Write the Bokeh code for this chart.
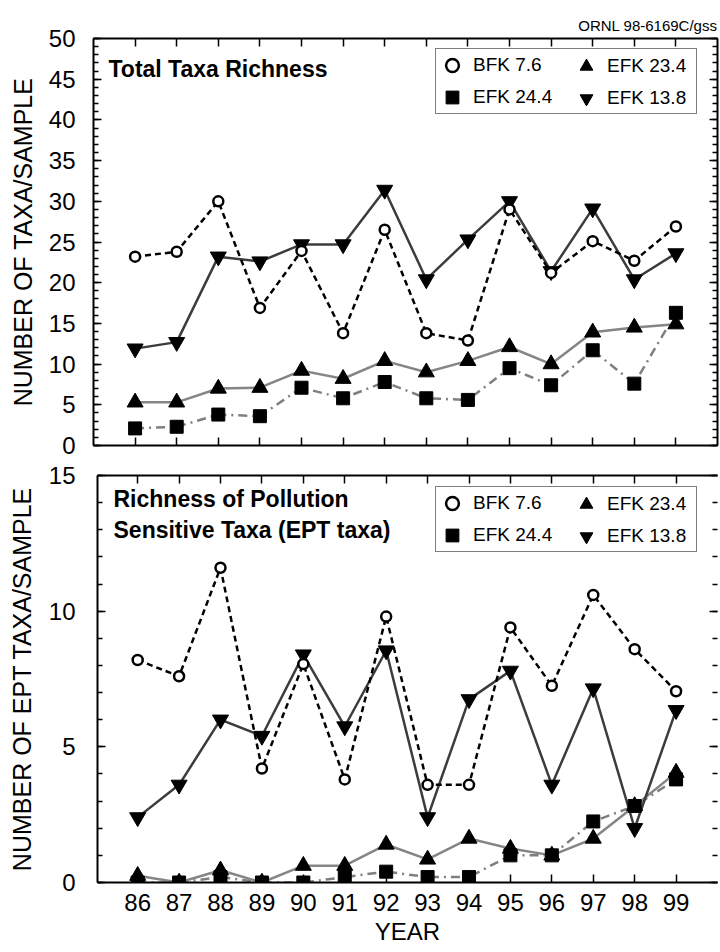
from bokeh.plotting import figure
from bokeh.models import (LinearAxis, FixedTicker, Legend, LegendItem, Label, Range1d)
from bokeh.layouts import column
from bokeh.embed import file_html
from bokeh.resources import INLINE

FONT = "Liberation Sans"

years = [86, 87, 88, 89, 90, 91, 92, 93, 94, 95, 96, 97, 98, 99]

# Top panel: total taxa richness
total_bfk76 = [23.2, 23.8, 30.0, 16.9, 23.9, 13.8, 26.5, 13.8, 12.9, 29.0, 21.2, 25.1, 22.7, 26.9]
total_efk138 = [11.9, 12.7, 23.2, 22.6, 24.7, 24.7, 31.4, 20.4, 25.3, 30.0, 21.4, 29.1, 20.4, 23.6]
total_efk234 = [5.3, 5.3, 7.0, 7.1, 9.2, 8.2, 10.4, 9.0, 10.4, 12.1, 10.0, 13.9, 14.5, 14.9]
total_efk244 = [2.1, 2.3, 3.8, 3.6, 7.1, 5.8, 7.8, 5.8, 5.6, 9.5, 7.4, 11.7, 7.6, 16.3]

# Bottom panel: EPT taxa richness
ept_bfk76 = [8.2, 7.6, 11.6, 4.2, 8.05, 3.8, 9.8, 3.6, 3.6, 9.4, 7.25, 10.6, 8.6, 7.05]
ept_efk138 = [2.4, 3.6, 6.0, 5.4, 8.4, 5.75, 8.55, 2.4, 6.75, 7.8, 3.6, 7.15, 2.0, 6.35]
ept_efk234 = [0.25, 0.0, 0.45, 0.0, 0.62, 0.62, 1.4, 0.85, 1.62, 1.25, 1.0, 1.62, 2.82, 4.05]
ept_efk244 = [0.0, 0.0, 0.2, 0.0, 0.0, 0.2, 0.4, 0.2, 0.2, 1.0, 1.0, 2.25, 2.82, 3.8]

top_yticks = [0, 5, 10, 15, 20, 25, 30, 35, 40, 45, 50]
bot_yticks = [0, 5, 10, 15]

series_names = ["BFK 7.6", "EFK 24.4", "EFK 23.4", "EFK 13.8"]


def style_axis(ax, ticks, show_labels, line=True):
    ax.axis_line_color = "black" if line else None
    ax.axis_line_width = 2
    ax.major_tick_out = 0
    ax.minor_tick_out = 0
    ax.major_tick_line_color = "black"
    ax.minor_tick_line_color = "black"
    ax.major_tick_line_width = 1.5
    ax.minor_tick_line_width = 1.5
    ax.major_label_text_font = FONT
    ax.major_label_text_color = "black"
    ax.axis_label_text_font = FONT
    ax.axis_label_text_font_style = "normal"
    ax.axis_label_text_color = "black"
    if not show_labels:
        ax.major_label_overrides = {t: "" for t in ticks}
        ax.major_label_text_font_size = "2px"
        ax.major_label_standoff = 0
    else:
        ax.major_label_text_font_size = "24px"


def make_panel(width, height, xr, yticks, ytop, bl, br, bt, bb, data, ylabel,
               ylab_standoff, yaxis_standoff, show_xlabels, right_line, margin):
    p = figure(width=width, height=height, x_range=Range1d(*xr), y_range=Range1d(0, ytop),
               output_backend="svg", toolbar_location=None,
               min_border_left=bl, min_border_right=br, min_border_top=bt,
               min_border_bottom=bb, x_axis_location=None, y_axis_location=None)
    p.margin = margin
    p.outline_line_color = None
    p.grid.visible = False
    p.background_fill_color = "white"
    p.border_fill_color = "white"

    xt = FixedTicker(ticks=years, minor_ticks=[])
    yt = FixedTicker(ticks=yticks, minor_ticks=list(range(0, ytop + 1)))

    left = LinearAxis(ticker=yt, axis_label=ylabel)
    style_axis(left, yticks, True)
    left.major_tick_in = 8
    left.minor_tick_in = 5
    left.major_label_standoff = ylab_standoff
    left.axis_label_standoff = yaxis_standoff
    left.axis_label_text_font_size = "25px"
    p.add_layout(left, "left")

    right = LinearAxis(ticker=yt)
    style_axis(right, yticks, False, line=right_line)
    right.major_tick_in = 8
    right.minor_tick_in = 5
    p.add_layout(right, "right")

    below = LinearAxis(ticker=xt, axis_label="YEAR" if show_xlabels else None)
    style_axis(below, years, show_xlabels)
    below.major_tick_in = 8
    if show_xlabels:
        below.major_label_standoff = 11
        below.axis_label_standoff = 4
        below.axis_label_text_font_size = "24px"
    p.add_layout(below, "below")

    above = LinearAxis(ticker=xt)
    style_axis(above, years, False)
    above.major_tick_in = 8
    p.add_layout(above, "above")

    bfk, e244, e234, e138 = data
    r = {}
    p.line(years, e244, line_color="#7f7f7f", line_width=2.5, line_dash="9 5 2 5")
    p.line(years, e234, line_color="#858585", line_width=2.5)
    p.line(years, e138, line_color="#3c3c3c", line_width=2.5)
    p.line(years, bfk, line_color="black", line_width=2.5, line_dash="6 4")
    r["EFK 24.4"] = p.scatter(years, e244, marker="square", size=13, fill_color="black", line_color="black")
    r["EFK 23.4"] = p.scatter(years, e234, marker="triangle", size=16, fill_color="black", line_color="black")
    r["EFK 13.8"] = p.scatter(years, e138, marker="inverted_triangle", size=16, fill_color="black", line_color="black")
    r["BFK 7.6"] = p.scatter(years, bfk, marker="circle", size=10, fill_color="white", line_color="black", line_width=2.5)
    return p, r


def add_legends(p, r, xa, xb, y):
    common = dict(orientation="vertical", glyph_width=32, glyph_height=32, spacing=-7,
                  padding=0, margin=0, label_standoff=5, label_height=25,
                  label_text_font=FONT, label_text_font_size="19px", label_text_color="black")
    la = Legend(items=[LegendItem(label=series_names[0], renderers=[r[series_names[0]]]),
                       LegendItem(label=series_names[1], renderers=[r[series_names[1]]])],
                location=(xa, y), label_width=223, border_line_color="black",
                border_line_width=1.5, background_fill_color="white", background_fill_alpha=1.0,
                **common)
    lb = Legend(items=[LegendItem(label=series_names[2], renderers=[r[series_names[2]]]),
                       LegendItem(label=series_names[3], renderers=[r[series_names[3]]])],
                location=(xb, y), label_width=0, border_line_color=None,
                background_fill_alpha=0.0, **common)
    p.add_layout(la)
    p.add_layout(lb)


top, rt = make_panel(720, 460, (85.0, 100.0), top_yticks, 50, 93, 3, 38, 15,
                     (total_bfk76, total_efk244, total_efk234, total_efk138),
                     "NUMBER OF TAXA/SAMPLE", 18, 9, False, True, (0, 0, 0, 0))
top.title.text = "ORNL 98-6169C/gss"
top.title.align = "right"
top.title.text_font = FONT
top.title.text_font_size = "15px"
top.title.text_font_style = "normal"
top.title.text_color = "black"
add_legends(top, rt, 342, 477, 331)
top.add_layout(Label(x=15, y=377, x_units="screen", y_units="screen", text="Total Taxa Richness",
                     text_font=FONT, text_font_size="23px", text_font_style="bold",
                     text_baseline="middle", text_color="black"))

bot, rb = make_panel(716, 492, (85.03, 100.0), bot_yticks, 15, 93, 0, 15, 70,
                     (ept_bfk76, ept_efk244, ept_efk234, ept_efk138),
                     "NUMBER OF EPT TAXA/SAMPLE", 22, 10, True, False, (0, 0, 0, 4))
add_legends(bot, rb, 338, 473, 330)
bot.add_layout(Label(x=16, y=368, x_units="screen", y_units="screen",
                     text="Richness of Pollution\nSensitive Taxa (EPT taxa)",
                     text_font=FONT, text_font_size="23px", text_font_style="bold",
                     text_baseline="middle", text_color="black"))

layout = column(top, bot, spacing=0)
open("out.html", "w").write(file_html(layout, INLINE))
